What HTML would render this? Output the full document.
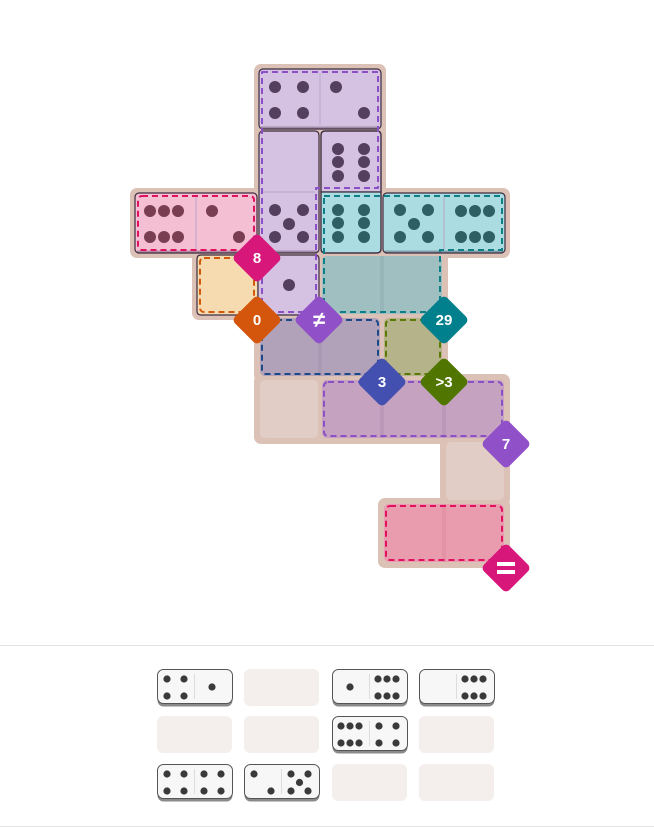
<!DOCTYPE html>
<html><head><meta charset="utf-8"><style>
html,body{margin:0;padding:0;background:#fff;}
svg{display:block;font-family:"Liberation Sans",sans-serif;}
</style></head><body>
<svg width="654" height="827" viewBox="0 0 654 827" xmlns="http://www.w3.org/2000/svg">
<g fill="#dcc1b7">
<rect x="254" y="64" width="132" height="132" rx="7"/>
<rect x="130" y="188" width="380" height="70" rx="7"/>
<rect x="192" y="250" width="256" height="70" rx="7"/>
<rect x="254" y="312" width="194" height="70" rx="7"/>
<rect x="254" y="374" width="256" height="70" rx="7"/>
<rect x="440" y="436" width="70" height="70" rx="7"/>
<rect x="378" y="498" width="132" height="70" rx="7"/>
</g>
<g>
<rect x="322" y="256" width="120" height="58" rx="5" fill="#9fbfc1"/>
<rect x="380" y="256" width="4" height="58" fill="#97b6b9"/>
<rect x="260" y="318" width="120" height="58" rx="5" fill="#b1a2ba"/>
<rect x="318" y="318" width="4" height="58" fill="#a999b2"/>
<rect x="384" y="318" width="58" height="58" rx="5" fill="#b5b38a"/>
<rect x="260" y="380" width="58" height="58" rx="5" fill="#e2cdc6"/>
<rect x="322" y="380" width="182" height="58" rx="5" fill="#c4a2c0"/>
<rect x="380" y="380" width="4" height="58" fill="#bb98b7"/>
<rect x="442" y="380" width="4" height="58" fill="#bb98b7"/>
<rect x="446" y="442" width="58" height="58" rx="5" fill="#e2cdc6"/>
<rect x="384" y="504" width="120" height="58" rx="5" fill="#e89cad"/>
<rect x="442" y="504" width="4" height="58" fill="#e293a4"/>
</g>
<g stroke="#3d2c40" stroke-width="1.2">
<rect x="259" y="69" width="122" height="60" rx="4" fill="#d5c2e3"/>
<rect x="259" y="131" width="60" height="122" rx="4" fill="#d5c2e3"/>
<path d="M325 131 H377 Q381 131 381 135 V192 H321 V135 Q321 131 325 131Z" fill="#d5c2e3"/>
<path d="M321 192 H381 V249 Q381 253 377 253 H325 Q321 253 321 249Z" fill="#aadce2"/>
<rect x="321" y="131" width="60" height="122" rx="4" fill="none"/>
<rect x="135" y="193" width="122" height="60" rx="4" fill="#f5bfd3"/>
<rect x="383" y="193" width="122" height="60" rx="4" fill="#aadce2"/>
<path d="M201 255 H258 V315 H201 Q197 315 197 311 V259 Q197 255 201 255Z" fill="#f7dbb0"/>
<path d="M258 255 H315 Q319 255 319 259 V311 Q319 315 315 315 H258Z" fill="#d5c2e3"/>
</g>
<g stroke-width="3" fill="none" opacity="0.35" stroke="#3d2c40">
<line x1="261" y1="128" x2="379" y2="128"/>
<line x1="261" y1="252" x2="317" y2="252"/>
<line x1="137" y1="252" x2="255" y2="252"/>
<line x1="385" y1="252" x2="503" y2="252"/>
</g>
<g stroke="#b9a6c8" stroke-width="1">
<line x1="320" y1="73" x2="320" y2="125"/>
<line x1="263" y1="192" x2="315" y2="192"/>
<line x1="196" y1="197" x2="196" y2="249"/>
<line x1="444" y1="197" x2="444" y2="249"/>
</g>
<g fill="none" stroke-width="2" stroke-dasharray="6,4">
<path d="M262 72 H378 V188 H316 V312 H262 Z" stroke="#8b4fc6" stroke-linejoin="round"/>
<path d="M324 196 H502 V250 H440 V312 H324 Z" stroke="#0e7f86"/>
<rect x="138" y="196" width="116" height="54" rx="4" stroke="#e0115f"/>
<rect x="200" y="258" width="54" height="54" rx="4" stroke="#d35a0b"/>
<rect x="262" y="320" width="116" height="54" rx="4" stroke="#1d4a86"/>
<rect x="386" y="320" width="54" height="54" rx="4" stroke="#5b7a05"/>
<rect x="324" y="382" width="178" height="54" rx="4" stroke="#8b4fc6"/>
<rect x="386" y="506" width="116" height="54" rx="4" stroke="#e0115f"/>
</g>
<g fill="#54405e">
<circle cx="275" cy="87" r="6"/><circle cx="303" cy="87" r="6"/><circle cx="275" cy="113" r="6"/><circle cx="303" cy="113" r="6"/>
<circle cx="336" cy="87" r="6"/><circle cx="364" cy="113" r="6"/>
<circle cx="275" cy="210" r="6"/><circle cx="303" cy="210" r="6"/><circle cx="289" cy="224" r="6"/><circle cx="275" cy="237" r="6"/><circle cx="303" cy="237" r="6"/>
<circle cx="338" cy="149" r="6"/><circle cx="364" cy="149" r="6"/><circle cx="338" cy="162" r="6"/><circle cx="364" cy="162" r="6"/><circle cx="338" cy="176" r="6"/><circle cx="364" cy="176" r="6"/>
<circle cx="289" cy="285" r="6"/>
</g>
<g fill="#2e5f63">
<circle cx="338" cy="210" r="6"/><circle cx="364" cy="210" r="6"/><circle cx="338" cy="223" r="6"/><circle cx="364" cy="223" r="6"/><circle cx="338" cy="237" r="6"/><circle cx="364" cy="237" r="6"/>
<circle cx="400" cy="210" r="6"/><circle cx="428" cy="210" r="6"/><circle cx="414" cy="224" r="6"/><circle cx="400" cy="237" r="6"/><circle cx="428" cy="237" r="6"/>
<circle cx="461" cy="211" r="6"/><circle cx="475" cy="211" r="6"/><circle cx="489" cy="211" r="6"/><circle cx="461" cy="237" r="6"/><circle cx="475" cy="237" r="6"/><circle cx="489" cy="237" r="6"/>
</g>
<g fill="#7a3e52">
<circle cx="150" cy="211" r="6"/><circle cx="164" cy="211" r="6"/><circle cx="178" cy="211" r="6"/><circle cx="150" cy="237" r="6"/><circle cx="164" cy="237" r="6"/><circle cx="178" cy="237" r="6"/>
<circle cx="212" cy="211" r="6"/><circle cx="239" cy="237" r="6"/>
</g>
<g font-weight="bold" font-size="15" fill="#fff" text-anchor="middle">
<g transform="translate(257,258)"><rect x="-18" y="-18" width="36" height="36" rx="5" fill="#d8177a" transform="rotate(45)"/><text y="5">8</text></g>
<g transform="translate(257,320)"><rect x="-18" y="-18" width="36" height="36" rx="5" fill="#d4560c" transform="rotate(45)"/><text y="5">0</text></g>
<g transform="translate(319,320)"><rect x="-18" y="-18" width="36" height="36" rx="5" fill="#9050c8" transform="rotate(45)"/><text y="7" font-size="22">≠</text></g>
<g transform="translate(444,320)"><rect x="-18" y="-18" width="36" height="36" rx="5" fill="#007f8c" transform="rotate(45)"/><text y="5">29</text></g>
<g transform="translate(382,382)"><rect x="-18" y="-18" width="36" height="36" rx="5" fill="#4450b0" transform="rotate(45)"/><text y="5">3</text></g>
<g transform="translate(444,382)"><rect x="-18" y="-18" width="36" height="36" rx="5" fill="#507500" transform="rotate(45)"/><text y="5">&gt;3</text></g>
<g transform="translate(506,444)"><rect x="-18" y="-18" width="36" height="36" rx="5" fill="#9050c8" transform="rotate(45)"/><text y="5">7</text></g>
<g transform="translate(506,568)"><rect x="-18" y="-18" width="36" height="36" rx="5" fill="#d8177a" transform="rotate(45)"/><rect x="-9" y="-6" width="18" height="4" fill="#fff"/><rect x="-9" y="2" width="18" height="4" fill="#fff"/></g>
</g>
<line x1="0" y1="645.5" x2="654" y2="645.5" stroke="#e3e3e3"/>
<line x1="0" y1="826.5" x2="654" y2="826.5" stroke="#e3e3e3"/>
<g fill="#f4efec">
<rect x="244" y="669" width="75" height="37" rx="6"/>
<rect x="157" y="716" width="75" height="37" rx="6"/>
<rect x="244" y="716" width="75" height="37" rx="6"/>
<rect x="419" y="716" width="75" height="37" rx="6"/>
<rect x="332" y="764" width="75" height="37" rx="6"/>
<rect x="419" y="764" width="75" height="37" rx="6"/>
</g>
<g>
<g transform="translate(157,669)"><rect x="0.5" y="0.5" width="75" height="37" rx="6" fill="#8a8a8a"/><rect x="0.5" y="0.5" width="75" height="34" rx="6" fill="#f7f7f7" stroke="#555"/><line x1="37.5" y1="5" x2="37.5" y2="30" stroke="#ddd"/></g>
<g transform="translate(332,669)"><rect x="0.5" y="0.5" width="75" height="37" rx="6" fill="#8a8a8a"/><rect x="0.5" y="0.5" width="75" height="34" rx="6" fill="#f7f7f7" stroke="#555"/><line x1="37.5" y1="5" x2="37.5" y2="30" stroke="#ddd"/></g>
<g transform="translate(419,669)"><rect x="0.5" y="0.5" width="75" height="37" rx="6" fill="#8a8a8a"/><rect x="0.5" y="0.5" width="75" height="34" rx="6" fill="#f7f7f7" stroke="#555"/><line x1="37.5" y1="5" x2="37.5" y2="30" stroke="#ddd"/></g>
<g transform="translate(332,716)"><rect x="0.5" y="0.5" width="75" height="37" rx="6" fill="#8a8a8a"/><rect x="0.5" y="0.5" width="75" height="34" rx="6" fill="#f7f7f7" stroke="#555"/><line x1="37.5" y1="5" x2="37.5" y2="30" stroke="#ddd"/></g>
<g transform="translate(157,764)"><rect x="0.5" y="0.5" width="75" height="37" rx="6" fill="#8a8a8a"/><rect x="0.5" y="0.5" width="75" height="34" rx="6" fill="#f7f7f7" stroke="#555"/><line x1="37.5" y1="5" x2="37.5" y2="30" stroke="#ddd"/></g>
<g transform="translate(244,764)"><rect x="0.5" y="0.5" width="75" height="37" rx="6" fill="#8a8a8a"/><rect x="0.5" y="0.5" width="75" height="34" rx="6" fill="#f7f7f7" stroke="#555"/><line x1="37.5" y1="5" x2="37.5" y2="30" stroke="#ddd"/></g>
</g>
<g fill="#3a3a3a">
<circle cx="167" cy="679" r="3.6"/><circle cx="184" cy="679" r="3.6"/><circle cx="167" cy="696" r="3.6"/><circle cx="184" cy="696" r="3.6"/><circle cx="212" cy="687" r="3.6"/>
<circle cx="350" cy="687" r="3.6"/><circle cx="378" cy="679" r="3.6"/><circle cx="387" cy="679" r="3.6"/><circle cx="396" cy="679" r="3.6"/><circle cx="378" cy="696" r="3.6"/><circle cx="387" cy="696" r="3.6"/><circle cx="396" cy="696" r="3.6"/>
<circle cx="465" cy="679" r="3.6"/><circle cx="474" cy="679" r="3.6"/><circle cx="483" cy="679" r="3.6"/><circle cx="465" cy="696" r="3.6"/><circle cx="474" cy="696" r="3.6"/><circle cx="483" cy="696" r="3.6"/>
<circle cx="341" cy="726" r="3.6"/><circle cx="350" cy="726" r="3.6"/><circle cx="359" cy="726" r="3.6"/><circle cx="341" cy="743" r="3.6"/><circle cx="350" cy="743" r="3.6"/><circle cx="359" cy="743" r="3.6"/>
<circle cx="379" cy="726" r="3.6"/><circle cx="396" cy="726" r="3.6"/><circle cx="379" cy="743" r="3.6"/><circle cx="396" cy="743" r="3.6"/>
<circle cx="167" cy="774" r="3.6"/><circle cx="184" cy="774" r="3.6"/><circle cx="167" cy="791" r="3.6"/><circle cx="184" cy="791" r="3.6"/>
<circle cx="204" cy="774" r="3.6"/><circle cx="221" cy="774" r="3.6"/><circle cx="204" cy="791" r="3.6"/><circle cx="221" cy="791" r="3.6"/>
<circle cx="254" cy="774" r="3.6"/><circle cx="271" cy="791" r="3.6"/>
<circle cx="291" cy="774" r="3.6"/><circle cx="308" cy="774" r="3.6"/><circle cx="299.5" cy="782.5" r="3.6"/><circle cx="291" cy="791" r="3.6"/><circle cx="308" cy="791" r="3.6"/>
</g>
</svg>
</body></html>
